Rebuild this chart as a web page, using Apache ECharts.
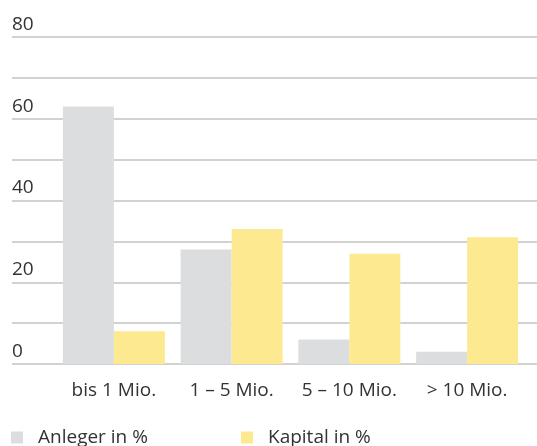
<!DOCTYPE html>
<html>
<head>
<meta charset="utf-8">
<script src="https://cdn.jsdelivr.net/npm/echarts@6/dist/echarts.min.js"></script>
<style>
  html, body { margin: 0; padding: 0; background: #fff; }
  #chart { width: 537px; height: 446px; }
</style>
</head>
<body>
<div id="chart"></div>
<script>
// data
var categories = ['bis 1 Mio.', '1 – 5 Mio.', '5 – 10 Mio.', '> 10 Mio.'];
var anleger = [63, 28, 6, 3];
var kapital = [8, 33, 27, 31];
var yMin = 0, yMax = 80, yStep = 10, yLabelStep = 20;

var font = '"Open Sans", sans-serif';
var textColor = '#333';

var chart = echarts.init(document.getElementById('chart'));
chart.setOption({
    animation: false,
    textStyle: { fontFamily: font },
    grid: [
        // gridlines + y labels span the whole width
        { left: 12, right: 0, top: 37, bottom: 82 },
        // bars sit a bit inset
        { left: 55, right: 11, top: 37, bottom: 82 }
    ],
    legend: [
        {
            data: ['Anleger in %'],
            left: 11, top: 428, padding: 0,
            icon: 'rect', itemWidth: 12, itemHeight: 12,
            textStyle: { fontFamily: font, fontSize: 19, color: textColor, padding: [0, 0, 0, 10] }
        },
        {
            data: ['Kapital in %'],
            left: 241, top: 428, padding: 0,
            icon: 'rect', itemWidth: 12, itemHeight: 12,
            textStyle: { fontFamily: font, fontSize: 19, color: textColor, padding: [0, 0, 0, 10] }
        }
    ],
    xAxis: [
        { type: 'category', gridIndex: 0, show: false, data: categories },
        {
            type: 'category', gridIndex: 1, data: categories,
            axisLine: { show: false }, axisTick: { show: false },
            axisLabel: { interval: 0, fontFamily: font, fontSize: 19, color: textColor, margin: 17 }
        }
    ],
    yAxis: [
        {
            type: 'value', gridIndex: 0, min: yMin, max: yMax, interval: yStep,
            axisLine: { show: false }, axisTick: { show: false },
            splitLine: { lineStyle: { color: '#d2d2d2', width: 2 } },
            axisLabel: {
                inside: true, margin: 0, verticalAlign: 'bottom', align: 'left',
                padding: [0, 0, 3, 0],
                fontFamily: font, fontSize: 19, color: textColor,
                formatter: function (v) { return v % yLabelStep === 0 ? String(v) : ''; }
            }
        },
        { type: 'value', gridIndex: 1, min: yMin, max: yMax, show: false, splitLine: { show: false } }
    ],
    series: [
        {
            name: 'Anleger in %', type: 'bar', xAxisIndex: 1, yAxisIndex: 1,
            data: anleger, barWidth: 51, barGap: '0%',
            itemStyle: { color: '#dcdddf' }
        },
        {
            name: 'Kapital in %', type: 'bar', xAxisIndex: 1, yAxisIndex: 1,
            data: kapital, barWidth: 51, barGap: '0%',
            itemStyle: { color: '#fde98f' }
        }
    ]
});
</script>
</body>
</html>
